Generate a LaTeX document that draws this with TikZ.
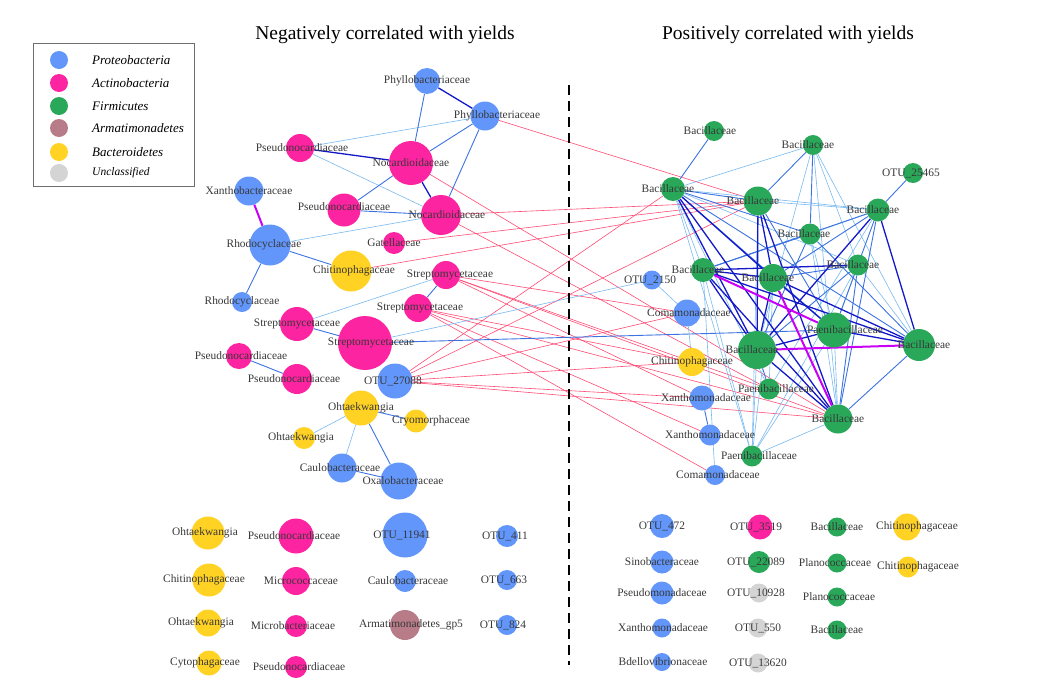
\documentclass[tikz,border=0pt]{standalone}
\usepackage{fontspec}
\setmainfont{Liberation Serif}
\usepackage{tikz}
\usetikzlibrary{backgrounds}
\definecolor{ProteoBlue}{RGB}{98,150,250}
\definecolor{ActinoPink}{RGB}{252,36,160}
\definecolor{FirmiGreen}{RGB}{42,168,90}
\definecolor{ArmaMauve}{RGB}{184,124,136}
\definecolor{BactYellow}{RGB}{255,210,36}
\definecolor{UnclGray}{RGB}{212,212,212}
\definecolor{EdgeLight}{RGB}{120,185,240}
\definecolor{EdgeMid}{RGB}{60,115,225}
\definecolor{EdgeDark}{RGB}{20,25,200}
\definecolor{EdgeMagenta}{RGB}{200,0,245}
\definecolor{EdgeRed}{RGB}{255,75,115}
\definecolor{LabelGray}{RGB}{55,55,55}
\definecolor{FrameGray}{RGB}{110,110,110}

\begin{document}
\begin{tikzpicture}[
    x=1pt, y=-1pt,
    otu/.style={circle, inner sep=0pt, draw=none},
    dia/.style={minimum size=#1pt},
    proteo/.style={otu, fill=ProteoBlue},
    actino/.style={otu, fill=ActinoPink},
    firmi/.style={otu, fill=FirmiGreen},
    armat/.style={otu, fill=ArmaMauve},
    bacte/.style={otu, fill=BactYellow},
    uncla/.style={otu, fill=UnclGray},
    tag/.style={text=LabelGray, inner sep=0pt, font=\fontsize{11.4}{11.4}\selectfont},
    keytext/.style={anchor=west, inner sep=0pt, font=\fontsize{13}{13}\selectfont\itshape},
    heading/.style={inner sep=0pt, font=\fontsize{19.5}{20}\selectfont},
    linklight/.style={EdgeLight, line width=0.6pt},
    linkmid/.style={EdgeMid, line width=0.9pt},
    linkdark/.style={EdgeDark, line width=1.3pt},
    linkmagenta/.style={EdgeMagenta, line width=2pt},
    linkred/.style={EdgeRed, line width=0.6pt},
  ]
  \useasboundingbox (0,0) rectangle (1052,691);

  % Headings
  \node[heading] (negtitle) at (385,35) {Negatively correlated with yields};
  \node[heading] (postitle) at (788,35) {Positively correlated with yields};

  % Legend
  \coordinate (legNW) at (33,43);
  \coordinate (legSE) at (194,186);
  \draw[FrameGray, line width=0.8pt] (legNW) rectangle (legSE);
  \foreach \sty/\txt/\y in {proteo/Proteobacteria/60, actino/Actinobacteria/83,
      firmi/Firmicutes/106, armat/Armatimonadetes/128, bacte/Bacteroidetes/152} {
    \node[\sty, dia=18] (key-\sty) at (59,\y) {};
    \node[keytext] (keylab-\sty) at (92,\y) {\txt};
  }
  \node[uncla, dia=18] (key-uncla) at (59,173) {};
  \node[keytext, font=\fontsize{11.5}{12}\selectfont\itshape] (keylab-uncla) at (92,173) {Unclassified};

  % Divider
  \coordinate (divTop) at (569,85);
  \coordinate (divBot) at (569,665);
  \draw[line width=1.6pt, dash pattern=on 10pt off 6pt] (divTop) -- (divBot);

  % Left network
  \node[proteo, dia=26, label={[tag]center:Phyllobacteriaceae}] (phyA) at (427,81) {};
  \node[proteo, dia=29, label={[tag,xshift=12pt]center:Phyllobacteriaceae}] (phyB) at (485,116) {};
  \node[actino, dia=28, label={[tag,xshift=2pt]center:Pseudonocardiaceae}] (pseA) at (300,148) {};
  \node[actino, dia=44, label={[tag]center:Nocardioidaceae}] (nocA) at (411,163) {};
  \node[proteo, dia=29, label={[tag]center:Xanthobacteraceae}] (xanL) at (249,191) {};
  \node[actino, dia=33, label={[tag,yshift=3pt]center:Pseudonocardiaceae}] (pseB) at (344,210) {};
  \node[actino, dia=40, label={[tag,xshift=6pt]center:Nocardioidaceae}] (nocB) at (441,215) {};
  \node[proteo, dia=41, label={[tag,xshift=-6pt]center:Rhodocyclaceae}] (rhoA) at (270,245) {};
  \node[actino, dia=22, label={[tag]center:Gatellaceae}] (gat) at (394,243) {};
  \node[bacte, dia=41, label={[tag,xshift=3pt]center:Chitinophagaceae}] (chiL) at (351,271) {};
  \node[actino, dia=28, label={[tag,xshift=4pt]center:Streptomycetaceae}] (strA) at (446,275) {};
  \node[proteo, dia=20, label={[tag]center:Rhodocyclaceae}] (rhoB) at (242,302) {};
  \node[actino, dia=28, label={[tag,xshift=2pt]center:Streptomycetaceae}] (strB) at (418,308) {};
  \node[actino, dia=34, label={[tag]center:Streptomycetaceae}] (strC) at (297,324) {};
  \node[actino, dia=54, label={[tag,xshift=6pt]center:Streptomycetaceae}] (strD) at (365,343) {};
  \node[actino, dia=26, label={[tag,xshift=2pt]center:Pseudonocardiaceae}] (pseC) at (239,356) {};
  \node[actino, dia=30, label={[tag,xshift=-3pt]center:Pseudonocardiaceae}] (pseD) at (297,379) {};
  \node[proteo, dia=35, label={[tag,xshift=-2pt]center:OTU\_27088}] (otu27088) at (395,381) {};
  \node[bacte, dia=35, label={[tag]center:Ohtaekwangia}] (ohtA) at (361,408) {};
  \node[bacte, dia=23, label={[tag,xshift=15pt]center:Cryomorphaceae}] (cryo) at (416,421) {};
  \node[bacte, dia=22, label={[tag,xshift=-3pt]center:Ohtaekwangia}] (ohtB) at (304,438) {};
  \node[proteo, dia=29, label={[tag,xshift=-2pt]center:Caulobacteraceae}] (cauA) at (342,468) {};
  \node[proteo, dia=37, label={[tag,xshift=4pt]center:Oxalobacteraceae}] (oxa) at (399,481) {};

  % Left, unconnected
  \node[bacte, dia=33, label={[tag,xshift=-3pt]center:Ohtaekwangia}] (ohtC) at (208,533) {};
  \node[actino, dia=35, label={[tag,xshift=-2pt]center:Pseudonocardiaceae}] (pseE) at (296,536) {};
  \node[proteo, dia=45, label={[tag,xshift=-3pt]center:OTU\_11941}] (otu11941) at (405,535) {};
  \node[proteo, dia=22, label={[tag,xshift=-2pt]center:OTU\_411}] (otu411) at (507,536) {};
  \node[bacte, dia=33, label={[tag,xshift=-5pt]center:Chitinophagaceae}] (chiM) at (209,580) {};
  \node[actino, dia=28, label={[tag,xshift=5pt]center:Micrococcaceae}] (micro) at (296,581) {};
  \node[proteo, dia=22, label={[tag,xshift=3pt]center:Caulobacteraceae}] (cauB) at (405,581) {};
  \node[proteo, dia=20, label={[tag,xshift=-3pt]center:OTU\_663}] (otu663) at (507,580) {};
  \node[bacte, dia=27, label={[tag,xshift=-7pt]center:Ohtaekwangia}] (ohtD) at (208,623) {};
  \node[actino, dia=22, label={[tag,xshift=-3pt]center:Microbacteriaceae}] (microb) at (296,626) {};
  \node[armat, dia=30, label={[tag,xshift=6pt]center:Armatimonadetes\_gp5}] (armgp5) at (405,625) {};
  \node[proteo, dia=20, label={[tag,xshift=-4pt]center:OTU\_824}] (otu824) at (507,625) {};
  \node[bacte, dia=25, label={[tag,xshift=-4pt]center:Cytophagaceae}] (cyto) at (209,663) {};
  \node[actino, dia=22, label={[tag,xshift=3pt]center:Pseudonocardiaceae}] (pseF) at (296,667) {};

  % Right network
  \node[firmi, dia=20, label={[tag,xshift=-4pt]center:Bacillaceae}] (bacA) at (714,131) {};
  \node[firmi, dia=20, label={[tag,xshift=-5pt]center:Bacillaceae}] (bacB) at (813,145) {};
  \node[firmi, dia=20, label={[tag,xshift=-2pt]center:OTU\_25465}] (otu25465) at (913,173) {};
  \node[firmi, dia=24, label={[tag,xshift=-5pt]center:Bacillaceae}] (bacC) at (673,189) {};
  \node[firmi, dia=29, label={[tag,xshift=-5pt]center:Bacillaceae}] (bacD) at (758,201) {};
  \node[firmi, dia=23, label={[tag,xshift=-5pt]center:Bacillaceae}] (bacE) at (878,210) {};
  \node[firmi, dia=21, label={[tag,xshift=-6pt]center:Bacillaceae}] (bacF) at (810,234) {};
  \node[firmi, dia=24, label={[tag,xshift=-5pt]center:Bacillaceae}] (bacG) at (703,270) {};
  \node[firmi, dia=28, label={[tag,xshift=-5pt]center:Bacillaceae}] (bacH) at (773,278) {};
  \node[firmi, dia=21, label={[tag,xshift=-5pt]center:Bacillaceae}] (bacI) at (858,265) {};
  \node[proteo, dia=19, label={[tag,xshift=-2pt]center:OTU\_2150}] (otu2150) at (652,280) {};
  \node[proteo, dia=27, label={[tag,xshift=2pt]center:Comamonadaceae}] (comaA) at (687,313) {};
  \node[firmi, dia=35, label={[tag,xshift=11pt]center:Paenibacillaceae}] (paenA) at (834,330) {};
  \node[firmi, dia=38, label={[tag,xshift=-5pt]center:Bacillaceae}] (bacJ) at (757,350) {};
  \node[firmi, dia=32, label={[tag,xshift=5pt]center:Bacillaceae}] (bacK) at (919,345) {};
  \node[bacte, dia=28, label={[tag]center:Chitinophagaceae}] (chiR) at (692,362) {};
  \node[firmi, dia=21, label={[tag,xshift=7pt]center:Paenibacillaceae}] (paenB) at (769,389) {};
  \node[proteo, dia=25, label={[tag,xshift=4pt]center:Xanthomonadaceae}] (xanthA) at (702,398) {};
  \node[firmi, dia=29, label={[tag]center:Bacillaceae}] (bacL) at (838,419) {};
  \node[proteo, dia=21, label={[tag]center:Xanthomonadaceae}] (xanthB) at (710,435) {};
  \node[firmi, dia=21, label={[tag,xshift=7pt]center:Paenibacillaceae}] (paenC) at (752,456) {};
  \node[proteo, dia=20, label={[tag,xshift=3pt]center:Comamonadaceae}] (comaB) at (715,475) {};

  % Right, unconnected
  \node[proteo, dia=24, label={[tag]center:OTU\_472}] (otu472) at (662,526) {};
  \node[proteo, dia=23, label={[tag]center:Sinobacteraceae}] (sino) at (662,562) {};
  \node[proteo, dia=23, label={[tag]center:Pseudomonadaceae}] (pseudom) at (662,593) {};
  \node[proteo, dia=19, label={[tag,xshift=1pt]center:Xanthomonadaceae}] (xanthC) at (662,628) {};
  \node[proteo, dia=18, label={[tag,xshift=1pt]center:Bdellovibrionaceae}] (bdell) at (662,662) {};
  \node[actino, dia=25, label={[tag,xshift=-4pt]center:OTU\_3519}] (otu3519) at (760,527) {};
  \node[firmi, dia=22, label={[tag,xshift=-3pt]center:OTU\_22089}] (otu22089) at (759,562) {};
  \node[uncla, dia=19, label={[tag,xshift=-3pt]center:OTU\_10928}] (otu10928) at (759,593) {};
  \node[uncla, dia=19, label={[tag]center:OTU\_550}] (otu550) at (758,628) {};
  \node[uncla, dia=19, label={[tag]center:OTU\_13620}] (otu13620) at (758,663) {};
  \node[firmi, dia=19, label={[tag]center:Bacillaceae}] (bacM) at (837,527) {};
  \node[firmi, dia=19, label={[tag,xshift=-2pt]center:Planococcaceae}] (planA) at (837,563) {};
  \node[firmi, dia=19, label={[tag,xshift=2pt]center:Planococcaceae}] (planB) at (837,597) {};
  \node[firmi, dia=19, label={[tag]center:Bacillaceae}] (bacN) at (837,630) {};
  \node[bacte, dia=27, label={[tag,xshift=10pt]center:Chitinophagaceae}] (chiS) at (907,527) {};
  \node[bacte, dia=21, label={[tag,xshift=10pt]center:Chitinophagaceae}] (chiT) at (908,567) {};

  % Connectors, behind the circles
  \begin{scope}[on background layer]
    % negative with positive
    \foreach \a/\b in {phyB/bacD, nocA/bacL, nocB/bacD, nocB/paenB, gat/bacD, chiL/bacD,
        strA/comaA, strA/paenB, strA/xanthA, strA/bacL, strB/chiR, strB/xanthB,
        strB/comaB, strB/bacL, otu27088/bacC, otu27088/bacD, otu27088/comaA,
        otu27088/chiR, otu27088/xanthA, otu27088/bacL}
      \draw[linkred] (\a) -- (\b);
    % light links
    \foreach \a/\b in {phyB/pseA, pseA/nocB, rhoA/nocB, strA/strC, ohtA/ohtB, ohtA/cauA,
        strD/otu2150, otu2150/comaA, comaA/chiR,
        bacB/bacC, bacB/bacJ, bacB/bacL, bacB/bacI, bacB/bacK, bacC/bacE, bacC/bacG,
        bacC/paenB, bacC/paenC, bacC/bacI, bacD/bacE, bacD/paenC, bacE/bacF, bacE/paenB,
        bacF/paenA, bacF/bacL, bacG/paenC, bacG/comaB, bacH/paenB, bacH/paenC,
        bacI/paenA, bacI/paenC, bacI/bacK, paenA/bacL, paenA/paenC, bacL/paenC, bacJ/paenC}
      \draw[linklight] (\a) -- (\b);
    % medium links
    \foreach \a/\b in {phyA/nocA, phyB/nocA, phyB/nocB, nocA/pseB, pseB/nocB, rhoA/chiL,
        rhoA/rhoB, strA/strB, strC/strD, pseC/pseD, ohtA/cryo, ohtA/oxa, cauA/oxa,
        strD/paenA, xanthA/xanthB,
        bacA/bacC, bacB/bacD, bacB/bacF, otu25465/bacE, bacC/bacD, bacC/bacF, bacC/paenA,
        bacC/bacK, bacE/bacG, bacE/bacH, bacE/bacL, bacE/paenA, bacF/bacG, bacF/bacJ,
        bacF/bacK, bacH/bacI, bacI/bacJ, bacI/bacL, bacJ/paenB, bacK/bacL, bacD/paenA}
      \draw[linkmid] (\a) -- (\b);
    % strong links
    \foreach \a/\b in {phyA/phyB, pseA/nocA, nocA/nocB,
        bacC/bacH, bacC/bacJ, bacC/bacL, bacD/bacH, bacD/bacJ, bacD/bacL, bacE/bacJ,
        bacE/bacK, bacG/bacH, bacG/bacI, bacG/bacJ, bacG/bacL, bacG/bacK, bacH/bacJ,
        bacH/paenA, bacH/bacK, bacJ/paenA, paenA/bacK, bacJ/bacL}
      \draw[linkdark] (\a) -- (\b);
    % strongest links
    \foreach \a/\b in {xanL/rhoA, bacG/paenA, bacH/bacL, bacJ/bacK}
      \draw[linkmagenta] (\a) -- (\b);
  \end{scope}
\end{tikzpicture}
\end{document}
